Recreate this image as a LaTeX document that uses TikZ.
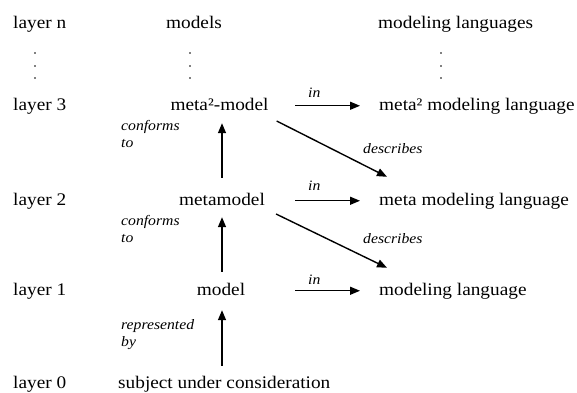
\documentclass[tikz,border=0pt]{standalone}
\usepackage{fontspec}
\setmainfont{Liberation Serif}[FakeStretch=1.09]
\usetikzlibrary{arrows.meta}
\begin{document}
\begin{tikzpicture}[x=1pt,y=-1pt,
  txt/.style={inner sep=0pt, font=\fontsize{17.7}{20}\selectfont, text height=12.5pt, text depth=4pt},
  lbl/.style={inner sep=0pt, font=\fontsize{14.4}{16.5}\selectfont\itshape, align=left},
  arr/.style={line width=1.4pt, -{Triangle[length=10pt,width=8pt]}},
  dotmark/.style={fill=black}]
\useasboundingbox (0,0) rectangle (577,392);
% column headers
\node[txt,anchor=base west] (ln) at (13,28) {layer n};
\node[txt,anchor=base] (mods) at (194,28) {models};
\node[txt,anchor=base west] (langs) at (378,28) {modeling languages};
% dots
\foreach \x in {35,190,441}{
  \foreach \y in {53,66,78}{
    \fill[dotmark] (\x,\y) circle (0.9);
  }
}
% layer 3
\node[txt,anchor=base west] (l3) at (13,110) {layer 3};
\node[txt,anchor=base] (m2) at (219.5,110) {meta²-model};
\node[txt,anchor=base west] (lang3) at (379,110) {meta² modeling language};
% layer 2
\node[txt,anchor=base west] (l2) at (13,205) {layer 2};
\node[txt,anchor=base] (mm) at (222,205) {metamodel};
\node[txt,anchor=base west] (lang2) at (379,205) {meta modeling language};
% layer 1
\node[txt,anchor=base west] (l1) at (13,295) {layer 1};
\node[txt,anchor=base] (m) at (221,295) {model};
\node[txt,anchor=base west] (lang1) at (379,295) {modeling language};
% layer 0
\node[txt,anchor=base west] (l0) at (13,388) {layer 0};
\node[txt,anchor=base west] (subj) at (118,388) {subject under consideration};
% vertical arrows
\draw[arr] ([yshift=14.5pt]mm.north) -- ([yshift=-9pt]mm.north |- m2.south);
\draw[arr] ([yshift=10.5pt]mm.south |- m.north) -- ([yshift=-8pt]mm.south);
\draw[arr] ([yshift=9.5pt]mm.south |- subj.north) -- ([yshift=-11pt]mm.south |- m.south);
% in arrows
\draw[arr] ([xshift=-84pt]lang3.west) -- ([xshift=-19pt]lang3.west);
\draw[arr] ([xshift=-84pt]lang2.west) -- ([xshift=-19pt]lang2.west);
\draw[arr] ([xshift=-84pt]lang1.west) -- ([xshift=-19pt]lang1.west);
% describes arrows
\draw[arr] ([shift={(8,15.25)}]m2.east) -- ([shift={(8,-15.5)}]lang2.north west);
\draw[arr] ([shift={(11,13.25)}]mm.east) -- ([shift={(8,-14.5)}]lang1.north west);
% labels
\node[lbl,anchor=base west] (in3) at (308,97) {in};
\node[lbl,anchor=base west] (in2) at (308,190) {in};
\node[lbl,anchor=base west] (in1) at (308,284) {in};
\node[lbl,anchor=base west] (desc3) at (363,153) {describes};
\node[lbl,anchor=base west] (desc2) at (363,243) {describes};
\node[lbl,anchor=base west] (conf3) at (121,147) {conforms\\to};
\node[lbl,anchor=base west] (conf2) at (121,242) {conforms\\to};
\node[lbl,anchor=base west] (rep) at (121,346) {represented\\by};
\end{tikzpicture}
\end{document}
